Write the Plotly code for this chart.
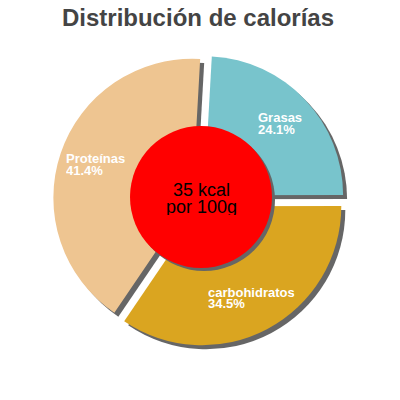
import plotly.graph_objects as go

labels = ['Grasas', 'carbohidratos', 'Proteínas']
values = [24.1, 34.5, 41.4]
colors = ['#78C4CC', '#DAA520', '#EEC591']
kcal_lines = ['35 kcal', 'por 100g']

# left edge and first-line centre of each slice label (window px)
label_pos = {'Grasas': (257, 117.5), 'carbohidratos': (207, 291.5), 'Proteínas': (65, 158)}

W = H = 400
PAD = 8                # the page body margin pushes the plot by this much
cx, cy = 199, 200      # pie centre in px
half = 146             # half the domain size

def px(x):
    return (x - PAD) / W

def py(y):
    return 1 - (y - PAD) / H

def dom(dx=0, dy=0):
    return dict(x=[px(cx - half + dx), px(cx + half + dx)],
                y=[py(cy + half + dy), py(cy - half + dy)])

fig = go.Figure()

# shadow pie
fig.add_trace(go.Pie(labels=labels, values=values, sort=False, direction='clockwise',
                     rotation=3.2, pull=0.05, domain=dom(4, 4),
                     marker=dict(colors=['#666666'] * 3, line=dict(width=0)),
                     textinfo='none', hoverinfo='skip', showlegend=False))
fig.add_trace(go.Pie(labels=labels, values=values, sort=False, direction='clockwise',
                     rotation=3.2, pull=0.05, domain=dom(),
                     marker=dict(colors=colors, line=dict(width=0)),
                     textinfo='none', showlegend=False))

lab_font = dict(family='Liberation Sans', size=13, color='white', weight='bold')
for lab, val in zip(labels, values):
    x, y = label_pos[lab]
    for i, line in enumerate([lab, f'{val}%']):
        fig.add_annotation(x=px(x), y=py(y + 11.5 * i), xref='paper', yref='paper',
                           text=line, showarrow=False, xanchor='left', yanchor='middle',
                           height=12, borderpad=0, font=lab_font)

# red centre disc and its shadow
ccx, ccy, cr = 201, 197, 71
for off, col in [(3, '#666666'), (0, '#FF0000')]:
    fig.add_shape(type='circle', xref='paper', yref='paper',
                  x0=px(ccx - cr + off), x1=px(ccx + cr + off),
                  y0=py(ccy + cr + off), y1=py(ccy - cr + off),
                  fillcolor=col, line=dict(width=0))

for i, line in enumerate(kcal_lines):
    fig.add_annotation(x=px(ccx), y=py(189.5 + 17 * i), xref='paper', yref='paper',
                       text=line, showarrow=False, yanchor='middle',
                       height=17, borderpad=0,
                       font=dict(family='Liberation Sans', size=18, color='black'))

fig.update_layout(width=W, height=H, margin=dict(l=0, r=0, t=0, b=0),
                  paper_bgcolor='white', plot_bgcolor='white',
                  title=dict(text='<b>Distribución de calorías</b>', x=px(198), xanchor='center',
                             y=py(18), yanchor='middle',
                             font=dict(family='Liberation Sans', size=24, color='#444444')))

fig.write_html('out.html')
